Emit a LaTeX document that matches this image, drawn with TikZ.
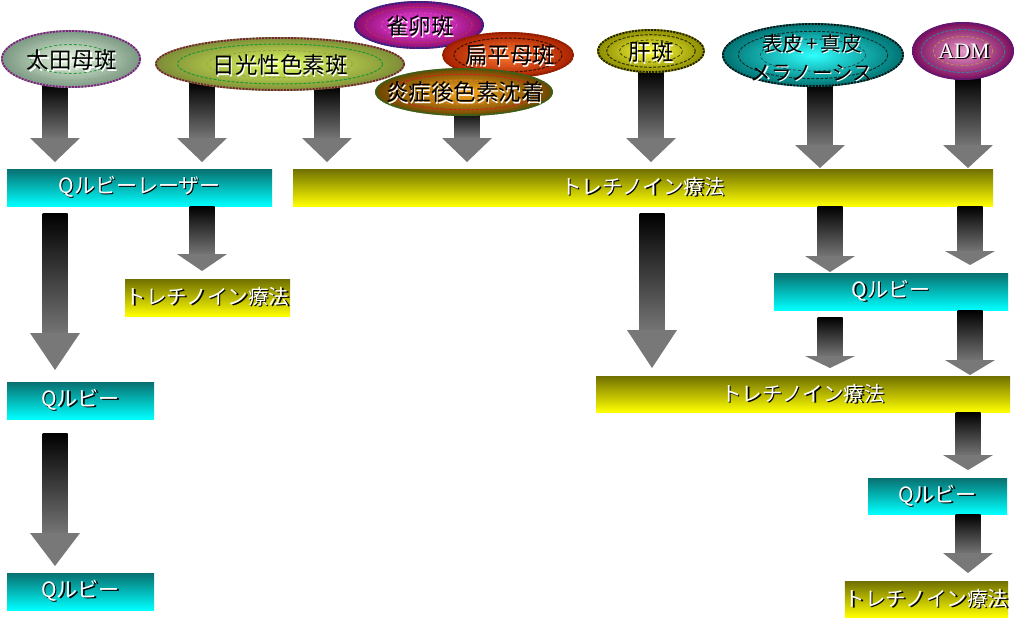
\documentclass[tikz,border=0pt]{standalone}
\usepackage{fontspec}
\newfontfamily\jp{Noto Sans CJK JP}
\newfontfamily\tms{Liberation Serif}
\usetikzlibrary{calc}

\definecolor{shaftbot}{HTML}{747474}
\definecolor{arrgray}{HTML}{787878}
\definecolor{cyT}{HTML}{087070}
\definecolor{cyM}{HTML}{00E4E4}
\definecolor{cyB}{HTML}{00FFFF}
\definecolor{yeT}{HTML}{707000}
\definecolor{yeM}{HTML}{E4E400}
\definecolor{yeB}{HTML}{FFFF00}
% ellipse colours
\definecolor{ot1}{HTML}{789680}\definecolor{ot2}{HTML}{E8F8E0}\definecolor{otb}{HTML}{8A1A8A}\definecolor{otr1}{HTML}{8FA88F}\definecolor{otr2}{HTML}{2A9A3A}
\definecolor{nk1}{HTML}{7D8C36}\definecolor{nk2}{HTML}{E0FF60}\definecolor{nkb}{HTML}{7A1F3A}\definecolor{nkr1}{HTML}{1A9A30}\definecolor{nkr2}{HTML}{9AA040}
\definecolor{jr1}{HTML}{8A0A6A}\definecolor{jr2}{HTML}{FF50F8}\definecolor{jrb}{HTML}{1A2A8A}\definecolor{jrr1}{HTML}{C02A5A}\definecolor{jrr2}{HTML}{E040C0}
\definecolor{hh1}{HTML}{A82000}\definecolor{hh2}{HTML}{FF7A30}\definecolor{hhb}{HTML}{8A2000}\definecolor{hhr1}{HTML}{3A1000}\definecolor{hhr2}{HTML}{E05020}
\definecolor{en1}{HTML}{6A4400}\definecolor{en2}{HTML}{FFAA20}\definecolor{enb}{HTML}{2A6A20}\definecolor{enr1}{HTML}{D02020}\definecolor{enr2}{HTML}{E08020}
\definecolor{kn1}{HTML}{8A8A00}\definecolor{kn2}{HTML}{FFFF40}\definecolor{knb}{HTML}{202000}\definecolor{knr1}{HTML}{303000}\definecolor{knr2}{HTML}{404000}
\definecolor{hy1}{HTML}{007070}\definecolor{hy2}{HTML}{30FFFF}\definecolor{hyb}{HTML}{101010}\definecolor{hyr1}{HTML}{103030}\definecolor{hyr2}{HTML}{205050}
\definecolor{ad1}{HTML}{7A0A5A}\definecolor{ad2}{HTML}{E89AC8}\definecolor{adb}{HTML}{5A1A7A}\definecolor{adr1}{HTML}{3A7AA0}\definecolor{adr2}{HTML}{C08A4A}

% white text with black shadow / black text with white shadow
\newcommand\wsh[1]{\rlap{\kern1.4pt\raisebox{-1.4pt}{\color{black}#1}}{\color{white}#1}}
\newcommand\bsh[1]{\rlap{\kern1.2pt\raisebox{-1.2pt}{\color{white}#1}}{\color{black}#1}}

% block arrow from coordinate #1 (shaft top) to coordinate #2 (tip), head length #3
\newcommand\barrow[3]{%
  \shade[top color=black,bottom color=shaftbot] let \p1=(#1),\p2=(#2) in
    (\x1-12.5pt,\y1) rectangle (\x1+12.5pt,\y2+#3pt);
  \fill[arrgray] let \p1=(#1),\p2=(#2) in
    (\x1-25pt,\y2+#3pt) -- (\x1+25pt,\y2+#3pt) -- (\x1,\y2) -- cycle;
}
% shaded ellipse with dashed rings
\newcommand\blob[9]{%
  \shade[inner color=#6,outer color=#5] (#1,#2) ellipse [x radius=#3, y radius=#4];
  \draw[#7,line width=1.8pt,dash pattern=on 2pt off 1.2pt] (#1,#2) ellipse [x radius=#3-1, y radius=#4-1];
  \draw[#8,line width=1pt,dash pattern=on 3pt off 1.5pt] (#1,#2) ellipse [x radius=0.82*#3, y radius=0.74*#4];
  \draw[#9,line width=0.8pt,dash pattern=on 3pt off 2pt] (#1,#2) ellipse [x radius=0.58*#3, y radius=0.5*#4];
}

\tikzset{
  cbox/.style={top color=cyT,middle color=cyM,bottom color=cyB,inner sep=0pt,minimum height=37pt,
    font=\jp\fontsize{21}{23}\selectfont},
  ybox/.style={top color=yeT,middle color=yeM,bottom color=yeB,inner sep=0pt,minimum height=37pt,
    font=\jp\fontsize{20.5}{23}\selectfont},
  etext/.style={inner sep=0pt,font=\jp\fontsize{22.5}{26}\selectfont,align=center},
}

\begin{document}
\begin{tikzpicture}[x=1pt,y=-1pt]
\useasboundingbox (0,0) rectangle (1017,619);
\fill[white] (0,0) rectangle (1017,619);

% ---- top arrows (behind the ellipses)
\coordinate (a1s) at (55,84);   \coordinate (a1e) at (55,162);
\coordinate (a2s) at (202,82);  \coordinate (a2e) at (202,162);
\coordinate (a3s) at (327,86);  \coordinate (a3e) at (327,162);
\coordinate (a4s) at (467,110); \coordinate (a4e) at (467,162);
\coordinate (a5s) at (651,70);  \coordinate (a5e) at (651,162);
\coordinate (a6s) at (820,84);  \coordinate (a6e) at (820,168);
\coordinate (a7s) at (968,77);  \coordinate (a7e) at (968,168);
\barrow{a1s}{a1e}{24}
\barrow{a2s}{a2e}{24}
\barrow{a3s}{a3e}{24}
\barrow{a4s}{a4e}{24}
\barrow{a5s}{a5e}{24}
\barrow{a6s}{a6e}{23}
\barrow{a7s}{a7e}{23}

% ---- ellipses
\blob{71}{59}{70}{29}{ot1}{ot2}{otb}{otr1}{otr2}
\node[etext] (ota) at (72,61) {\bsh{太田母斑}};
\blob{280}{64}{125}{27}{nk1}{nk2}{nkb}{nkr1}{nkr2}
\node[etext] (nikko) at (280,66) {\bsh{日光性色素斑}};
\blob{419}{25}{65}{24}{jr1}{jr2}{jrb}{jrr1}{jrr2}
\node[etext] (jaku) at (420,27) {\bsh{雀卵斑}};
\blob{508}{55}{66}{23}{hh1}{hh2}{hhb}{hhr1}{hhr2}
\node[etext] (henpei) at (510,56) {\bsh{扁平母斑}};
\blob{464}{92}{89}{24}{en1}{en2}{enb}{enr1}{enr2}
\node[etext] (ensho) at (465,93) {\bsh{炎症後色素沈着}};
\blob{651}{51}{54}{22}{kn1}{kn2}{knb}{knr1}{knr2}
\node[etext] (kanpan) at (651,53) {\bsh{肝斑}};
\blob{813}{55}{91}{32}{hy1}{hy2}{hyb}{hyr1}{hyr2}
\node[etext,font=\jp\fontsize{20.5}{29}\selectfont] (hyohi) at (812,58) {\bsh{表皮\kern3pt+\kern3pt真皮}\\\bsh{メラノーシス}};
\blob{963}{51}{51}{29}{ad1}{ad2}{adb}{adr1}{adr2}
\node[etext,font=\tms\fontsize{22}{26}\selectfont] (adm) at (964,52) {\wsh{ADM}};

% ---- boxes
\node[cbox,minimum width=265pt] (B1) at (139.5,187.5) {\wsh{Qルビーレーザー}};
\node[ybox,minimum width=700pt] (B2) at (643,187.5) {\wsh{トレチノイン療法}};
\node[ybox,minimum width=165pt] (B3) at (207.5,297.5) {\wsh{トレチノイン療法}};
\node[cbox,minimum width=147pt] (B4) at (80.5,400.5) {\wsh{Qルビー}};
\node[cbox,minimum width=147pt] (B5) at (80.5,591.5) {\wsh{Qルビー}};
\node[cbox,minimum width=234pt] (B6) at (891,291.5) {\wsh{Qルビー}};
\node[ybox,minimum width=414pt,minimum height=36pt] (B7) at (803,394) {\wsh{トレチノイン療法}};
\node[cbox,minimum width=139pt,minimum height=36pt] (B8) at (937.5,496) {\wsh{Qルビー}};
\node[ybox,minimum width=161pt,minimum height=36pt] (B9) at (926.5,599) {\wsh{トレチノイン療法}};

% ---- lower arrows
\coordinate (a8s) at (B1.south -| 202,0);  \coordinate (a8e) at (202,271);
\coordinate (a9s) at (55,213);  \coordinate (a9e) at (55,370);
\coordinate (a10s) at (55,433); \coordinate (a10e) at (55,566);
\coordinate (a11s) at (652,213); \coordinate (a11e) at (652,368);
\coordinate (a12s) at (B2.south -| 830,0); \coordinate (a12e) at (830,272);
\coordinate (a13s) at (B2.south -| 970,0); \coordinate (a13e) at (970,265);
\coordinate (a14s) at (830,317); \coordinate (a14e) at (830,368);
\coordinate (a15s) at (B6.south -| 970,0); \coordinate (a15e) at (970,375);
\coordinate (a16s) at (B7.south -| 968,0); \coordinate (a16e) at (968,470);
\coordinate (a17s) at (B8.south -| 968,0); \coordinate (a17e) at (968,573);
\barrow{a8s}{a8e}{17}
\barrow{a9s}{a9e}{37}
\barrow{a10s}{a10e}{33}
\barrow{a11s}{a11e}{38}
\barrow{a12s}{a12e}{16}
\barrow{a13s}{a13e}{14}
\barrow{a14s}{a14e}{12}
\barrow{a15s}{a15e}{15}
\barrow{a16s}{a16e}{15}
\barrow{a17s}{a17e}{20}
\end{tikzpicture}
\end{document}
